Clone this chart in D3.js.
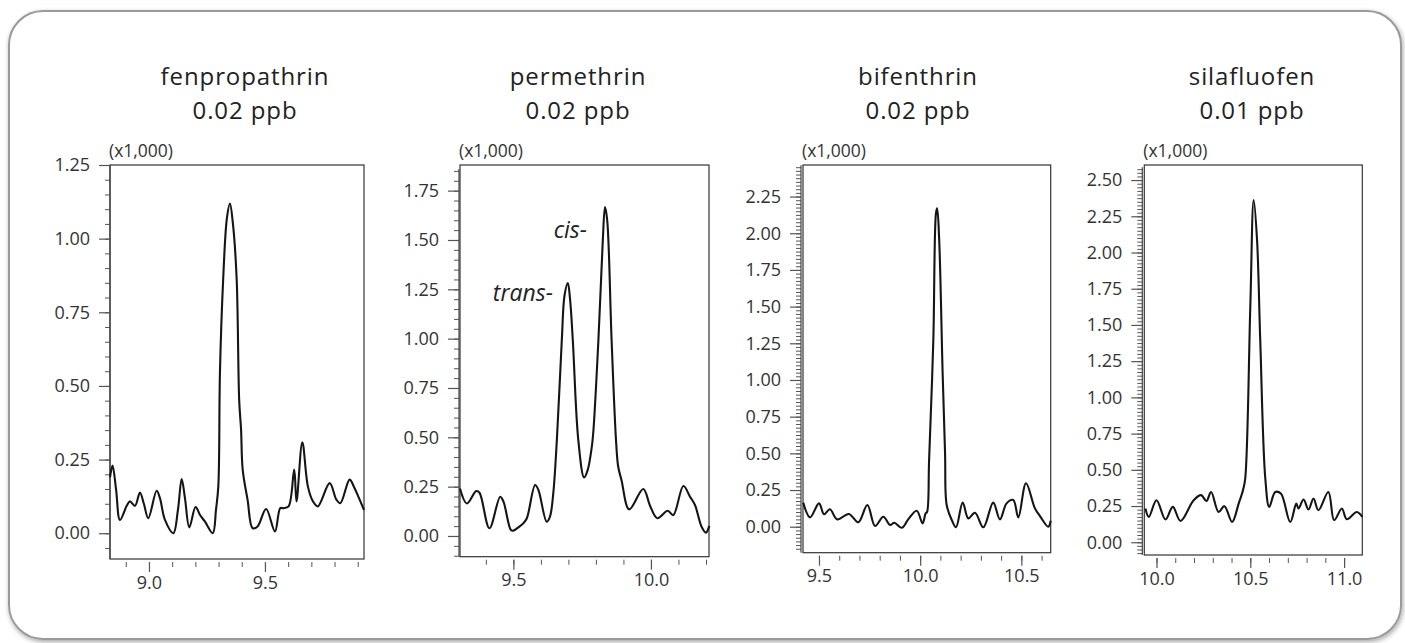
<!DOCTYPE html>
<html>
<head>
<meta charset="utf-8">
<script src="https://cdn.jsdelivr.net/npm/d3@7"></script>
<style>
  html, body { margin: 0; padding: 0; background: #ffffff; }
  svg { display: block; font-family: "Open Sans", "Noto Sans", sans-serif; }
</style>
</head>
<body>
<svg id="chart" width="1405" height="643"></svg>
<script>
// ---------------- DATA ----------------
const compounds = ["fenpropathrin", "permethrin", "bifenthrin", "silafluofen"];
const concentrations = ["0.02 ppb", "0.02 ppb", "0.02 ppb", "0.01 ppb"];
const scaleLabel = "(x1,000)";

// fenpropathrin chromatogram (retention time, intensity x1,000)
const fenTime = [8.832, 8.843, 8.858, 8.875, 8.904, 8.918, 8.940, 8.961, 8.978, 8.997, 9.033, 9.047, 9.069, 9.105, 9.125, 9.141, 9.155, 9.174, 9.201, 9.220, 9.241, 9.275, 9.289, 9.299, 9.306, 9.320, 9.336, 9.349, 9.362, 9.378, 9.389, 9.397, 9.404, 9.425, 9.447, 9.468, 9.505, 9.543, 9.566, 9.580, 9.602, 9.626, 9.636, 9.661, 9.685, 9.707, 9.728, 9.779, 9.808, 9.825, 9.865, 9.883, 9.905, 9.927];
const fenSignal = [0.19, 0.23, 0.15, 0.045, 0.093, 0.108, 0.093, 0.138, 0.10, 0.051, 0.144, 0.12, 0.045, 0.0, 0.08, 0.184, 0.12, 0.02, 0.089, 0.062, 0.04, 0.0, 0.08, 0.16, 0.546, 0.864, 1.07, 1.119, 1.05, 0.864, 0.45, 0.352, 0.216, 0.114, 0.017, 0.023, 0.082, 0.006, 0.085, 0.085, 0.091, 0.216, 0.108, 0.309, 0.159, 0.108, 0.091, 0.17, 0.114, 0.102, 0.182, 0.159, 0.12, 0.079];

// permethrin chromatogram (trans- and cis- isomers)
const perTime = [9.306, 9.331, 9.365, 9.377, 9.413, 9.452, 9.464, 9.491, 9.500, 9.518, 9.536, 9.549, 9.579, 9.591, 9.621, 9.633, 9.645, 9.658, 9.676, 9.686, 9.698, 9.706, 9.716, 9.736, 9.757, 9.770, 9.785, 9.791, 9.809, 9.825, 9.833, 9.841, 9.857, 9.873, 9.881, 9.893, 9.921, 9.972, 9.997, 10.023, 10.061, 10.081, 10.118, 10.142, 10.160, 10.184, 10.200, 10.212];
const perSignal = [0.241, 0.165, 0.228, 0.219, 0.039, 0.199, 0.174, 0.030, 0.027, 0.044, 0.064, 0.09, 0.258, 0.233, 0.072, 0.098, 0.216, 0.486, 0.992, 1.22, 1.282, 1.20, 0.992, 0.486, 0.297, 0.334, 0.452, 0.536, 0.992, 1.498, 1.667, 1.60, 0.992, 0.486, 0.351, 0.283, 0.135, 0.238, 0.152, 0.09, 0.128, 0.106, 0.253, 0.199, 0.157, 0.047, 0.017, 0.051];

// bifenthrin chromatogram
const bifTime = [9.422, 9.456, 9.500, 9.525, 9.554, 9.590, 9.648, 9.694, 9.739, 9.777, 9.818, 9.851, 9.872, 9.909, 9.941, 9.983, 10.012, 10.027, 10.034, 10.044, 10.065, 10.078, 10.084, 10.094, 10.111, 10.123, 10.131, 10.156, 10.177, 10.210, 10.238, 10.271, 10.312, 10.361, 10.394, 10.427, 10.460, 10.485, 10.523, 10.567, 10.592, 10.633, 10.645];
const bifSignal = [0.164, 0.064, 0.159, 0.085, 0.119, 0.05, 0.087, 0.03, 0.148, 0.005, 0.068, 0.012, 0.027, -0.007, 0.05, 0.109, 0.023, 0.091, 0.10, 0.45, 1.273, 2.136, 2.17, 1.954, 1.046, 0.5, 0.148, 0.046, -0.004, 0.164, 0.057, 0.095, -0.004, 0.164, 0.05, 0.159, 0.182, 0.064, 0.296, 0.125, 0.073, 0.0, 0.041];

// silafluofen chromatogram
const silTime = [9.941, 9.959, 10.000, 10.048, 10.087, 10.128, 10.198, 10.238, 10.266, 10.291, 10.331, 10.362, 10.403, 10.438, 10.461, 10.473, 10.500, 10.518, 10.536, 10.553, 10.580, 10.601, 10.633, 10.663, 10.713, 10.745, 10.757, 10.784, 10.810, 10.837, 10.863, 10.916, 10.947, 10.988, 11.014, 11.068, 11.097];
const silSignal = [0.233, 0.175, 0.29, 0.157, 0.244, 0.147, 0.29, 0.325, 0.285, 0.347, 0.209, 0.249, 0.14, 0.267, 0.359, 0.44, 1.625, 2.362, 2.086, 1.395, 0.44, 0.244, 0.347, 0.336, 0.14, 0.267, 0.233, 0.295, 0.226, 0.302, 0.221, 0.347, 0.152, 0.233, 0.159, 0.209, 0.175];

// tick labels
const xTickLabels = [[9.0, 9.5], [9.5, 10.0], [9.5, 10.0, 10.5], [10.0, 10.5, 11.0]];
const yTickLabels = [
  [0.00, 0.25, 0.50, 0.75, 1.00, 1.25],
  [0.00, 0.25, 0.50, 0.75, 1.00, 1.25, 1.50, 1.75],
  [0.00, 0.25, 0.50, 0.75, 1.00, 1.25, 1.50, 1.75, 2.00, 2.25],
  [0.00, 0.25, 0.50, 0.75, 1.00, 1.25, 1.50, 1.75, 2.00, 2.25, 2.50]
];
const isomerLabels = ["trans-", "cis-"];
const isomerTimes = [9.698, 9.833];
const isomerValues = [1.282, 1.667];

const times = [fenTime, perTime, bifTime, silTime];
const signals = [fenSignal, perSignal, bifSignal, silSignal];

// ---------------- LAYOUT ----------------
const layout = [
  { left: 110, top: 165, right: 364, bottom: 559, xd: [8.832, 9.927], yd: [-0.0875, 1.25], yMinor: [-0.05, 1.25, 0.05], titleX: 245, axisGap: 0 },
  { left: 460, top: 165, right: 709, bottom: 556.7, xd: [9.306, 10.211], yd: [-0.105, 1.88], yMinor: [-0.10, 1.85, 0.05], titleX: 578, axisGap: 1 },
  { left: 803, top: 165, right: 1050.7, bottom: 552.7, xd: [9.421, 10.645], yd: [-0.177, 2.465], yMinor: [-0.15, 2.45, 0.025], titleX: 918, axisGap: 2 },
  { left: 1144.3, top: 165, right: 1362.3, bottom: 555, xd: [9.935, 11.097], yd: [-0.088, 2.604], yMinor: [-0.075, 2.575, 0.025], titleX: 1252, axisGap: 2 }
];

const svg = d3.select("#chart");

// frame with soft shadow
const defs = svg.append("defs");
const f = defs.append("filter").attr("id", "shadow").attr("x", "-5%").attr("y", "-5%").attr("width", "110%").attr("height", "110%");
f.append("feGaussianBlur").attr("in", "SourceAlpha").attr("stdDeviation", 2.5).attr("result", "blur");
f.append("feOffset").attr("in", "blur").attr("dx", 1).attr("dy", 2).attr("result", "off");
f.append("feComponentTransfer").attr("in", "off").attr("result", "soft")
  .append("feFuncA").attr("type", "linear").attr("slope", 0.35);
const fm = f.append("feMerge");
fm.append("feMergeNode").attr("in", "soft");
fm.append("feMergeNode").attr("in", "SourceGraphic");

svg.append("rect")
  .attr("x", 9).attr("y", 11).attr("width", 1392).attr("height", 628)
  .attr("rx", 34).attr("ry", 34)
  .attr("fill", "#ffffff").attr("stroke", "#9a9a9a").attr("stroke-width", 2)
  .attr("filter", "url(#shadow)");

const fmt2 = d3.format(".2f");
const fmt1 = d3.format(".1f");

layout.forEach((L, i) => {
  const g = svg.append("g");
  const x = d3.scaleLinear().domain(L.xd).range([L.left, L.right]);
  const y = d3.scaleLinear().domain(L.yd).range([L.bottom, L.top]);

  // titles
  g.append("text").attr("x", L.titleX).attr("y", 85).attr("text-anchor", "middle")
    .attr("font-size", 24).attr("letter-spacing", 0.9).attr("fill", "#222").text(compounds[i]);
  g.append("text").attr("x", L.titleX).attr("y", 119).attr("text-anchor", "middle")
    .attr("font-size", 24).attr("letter-spacing", 0.9).attr("fill", "#222").text(concentrations[i]);

  // plot box
  g.append("rect").attr("x", L.left).attr("y", L.top)
    .attr("width", L.right - L.left).attr("height", L.bottom - L.top)
    .attr("fill", "none").attr("stroke", "#333").attr("stroke-width", 1.2);

  // scale label
  g.append("text").attr("x", L.left - 1).attr("y", 157)
    .attr("font-size", 17.5).attr("fill", "#333").text(scaleLabel);

  // y axis (minor + major)
  const ax = L.left - L.axisGap;
  const minorY = d3.range(L.yMinor[0], L.yMinor[1] + 1e-6, L.yMinor[2]);
  const yMinorAxis = d3.axisLeft(y).tickValues(minorY).tickSize(5).tickFormat("");
  const yMin = g.append("g").attr("transform", `translate(${ax},0)`).call(yMinorAxis);
  yMin.select(".domain").remove();
  yMin.selectAll("line").attr("stroke", "#555").attr("stroke-width", 1);
  g.append("line").attr("x1", ax).attr("x2", ax)
    .attr("y1", Math.max(L.top, y(L.yMinor[1]) - 2)).attr("y2", L.bottom)
    .attr("stroke", "#444").attr("stroke-width", 1.2);

  const yMajorAxis = d3.axisLeft(y).tickValues(yTickLabels[i]).tickSize(11).tickPadding(9).tickFormat(fmt2);
  const yMaj = g.append("g").attr("transform", `translate(${ax},0)`).call(yMajorAxis);
  yMaj.select(".domain").remove();
  yMaj.selectAll("line").attr("stroke", "#555").attr("stroke-width", 1.2);
  yMaj.selectAll("text").attr("font-size", 18).attr("fill", "#333")
    .attr("font-family", '"Open Sans", sans-serif');

  // x axis (ticks offset below the box)
  const xMinorVals = d3.range(Math.ceil(L.xd[0] * 10 - 1e-6), Math.floor(L.xd[1] * 10 + 1e-6) + 1).map(v => v / 10);
  const xMinorAxis = d3.axisBottom(x).tickValues(xMinorVals).tickSize(5).tickFormat("");
  const xMin = g.append("g").attr("transform", `translate(0,${L.bottom + 3})`).call(xMinorAxis);
  xMin.select(".domain").remove();
  xMin.selectAll("line").attr("stroke", "#555").attr("stroke-width", 1);

  const xMajorAxis = d3.axisBottom(x).tickValues(xTickLabels[i]).tickSize(10).tickPadding(4).tickFormat(fmt1);
  const xMaj = g.append("g").attr("transform", `translate(0,${L.bottom + 3})`).call(xMajorAxis);
  xMaj.select(".domain").remove();
  xMaj.selectAll("line").attr("stroke", "#555").attr("stroke-width", 1.2);
  xMaj.selectAll("text").attr("font-size", 18).attr("fill", "#333")
    .attr("font-family", '"Open Sans", sans-serif');

  // chromatogram trace
  const pts = times[i].map((t, k) => [t, signals[i][k]]);
  const line = d3.line().x(d => x(d[0])).y(d => y(d[1])).curve(d3.curveCatmullRom.alpha(0.5));
  g.append("path").datum(pts).attr("d", line)
    .attr("fill", "none").attr("stroke", "#151515").attr("stroke-width", 2.1)
    .attr("stroke-linejoin", "round");

  // isomer annotations on permethrin
  if (i === 1) {
    g.append("text").attr("x", x(isomerTimes[0]) - 15).attr("y", y(isomerValues[0]) + 18)
      .attr("text-anchor", "end").attr("font-size", 23).attr("font-style", "italic").attr("fill", "#222")
      .text(isomerLabels[0]);
    g.append("text").attr("x", x(isomerTimes[1]) - 18).attr("y", y(isomerValues[1]) + 31)
      .attr("text-anchor", "end").attr("font-size", 23).attr("font-style", "italic").attr("fill", "#222")
      .text(isomerLabels[1]);
  }
});
</script>
</body>
</html>
